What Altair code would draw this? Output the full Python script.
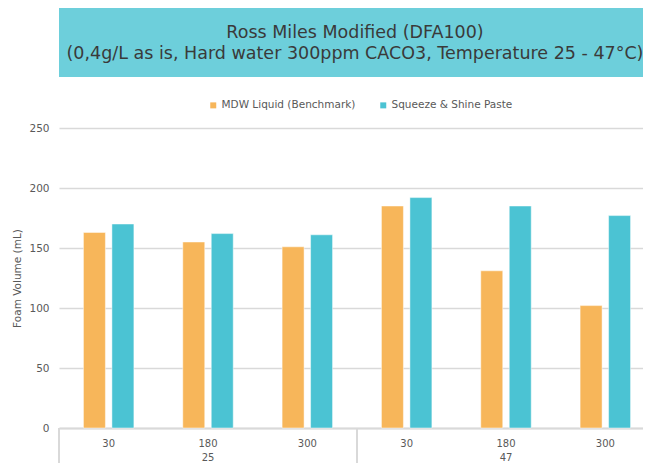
import altair as alt
import pandas as pd

# ---- data ----
temperatures = ["25", "25", "25", "47", "47", "47"]
times = ["30", "180", "300", "30", "180", "300"]
series_names = ["MDW Liquid (Benchmark)", "Squeeze & Shine Paste"]
mdw_values = [163, 155, 151, 185, 131, 102]
squeeze_values = [170, 162, 161, 192, 185, 177]
y_ticks = [0, 50, 100, 150, 200, 250]
title_lines = ["Ross Miles Modified (DFA100)",
               "(0,4g/L as is, Hard water 300ppm CACO3, Temperature 25 - 47°C)"]
y_title = "Foam Volume (mL)"

FONT = "DejaVu Sans"
GREY = "#595959"
GRID = "#D9D9D9"
COLORS = ["#F7B65A", "#4BC3D3"]
BOX = "#6DCFDB"

cats = [f"{t}|{m}" for t, m in zip(temperatures, times)]
rows = []
for c, v1, v2 in zip(cats, mdw_values, squeeze_values):
    rows.append({"cat": c, "series": series_names[0], "value": v1})
    rows.append({"cat": c, "series": series_names[1], "value": v2})
df = pd.DataFrame(rows)

W, H = 584, 300
xscale = alt.Scale(domain=cats, range=[0, 596], paddingInner=0, paddingOuter=0)

bars = alt.Chart(df).mark_bar(stroke="white", strokeOpacity=0.6, strokeWidth=0.8).encode(
    x=alt.X("cat:N", scale=xscale, sort=cats,
            axis=alt.Axis(title=None, labelExpr="split(datum.label, '|')[1]",
                          labelAngle=0, ticks=False, domainColor=GRID, domainWidth=2,
                          labelColor=GREY, labelFont=FONT, labelFontSize=10,
                          labelPadding=10, grid=False)),
    xOffset=alt.XOffset("series:N", sort=series_names,
                        scale=alt.Scale(paddingInner=0.228, paddingOuter=0.858)),
    y=alt.Y("value:Q", scale=alt.Scale(domain=[0, 250], nice=False),
            axis=alt.Axis(values=y_ticks, title=y_title, titleFont=FONT, titleFontSize=10.5,
                          titleFontWeight="normal", titleColor=GREY, titlePadding=6,
                          labelColor=GREY, labelFont=FONT, labelFontSize=10.5,
                          labelPadding=10, ticks=False, domain=False,
                          gridColor=GRID, gridWidth=1.6)),
    color=alt.Color("series:N", sort=series_names,
                    scale=alt.Scale(domain=series_names, range=COLORS),
                    legend=alt.Legend(title=None, orient="none", legendX=149, legendY=-28,
                                      direction="horizontal", symbolType="square",
                                      symbolSize=36, symbolStrokeWidth=0,
                                      labelFont=FONT, labelFontSize=10.5, labelColor=GREY,
                                      labelOffset=3, columnPadding=22)),
)

groups_df = pd.DataFrame({"cat": [cats[1], cats[4]], "label": [temperatures[0], temperatures[3]]})
group_text = alt.Chart(groups_df).mark_text(font=FONT, fontSize=10, color=GREY, baseline="middle").encode(
    x=alt.X("cat:N", scale=xscale, sort=cats),
    y=alt.value(H + 30),
    text="label:N",
)

bounds_df = pd.DataFrame({"cat": [cats[0], cats[3]]})
bounds = alt.Chart(bounds_df).mark_rule(color=GRID, strokeWidth=2).encode(
    x=alt.X("cat:N", scale=xscale, sort=cats, bandPosition=0),
    y=alt.value(H),
    y2=alt.value(H + 40),
)

box = alt.Chart(pd.DataFrame({"a": [0]})).mark_rect(color=BOX).encode(
    x=alt.value(0), x2=alt.value(W + 20), y=alt.value(-125), y2=alt.value(-51),
)
title1 = alt.Chart(pd.DataFrame({"line": [title_lines[0]]})).mark_text(
    font=FONT, fontSize=17.5, color="#3a3a3a", baseline="middle", align="center").encode(
    x=alt.value(296), y=alt.value(-95), text="line:N")
title2 = alt.Chart(pd.DataFrame({"line": [title_lines[1]]})).mark_text(
    font=FONT, fontSize=17.5, color="#3a3a3a", baseline="middle", align="center").encode(
    x=alt.value(296), y=alt.value(-74), text="line:N")

chart = alt.layer(box, title1, title2, bars, group_text, bounds).properties(
    width=W, height=H,
    autosize=alt.AutoSizeParams(type="none"),
    padding={"left": 51, "top": 120, "right": 0, "bottom": 35},
).configure_view(stroke=None)

chart.save("out.html", embed_options={"renderer": "svg", "actions": False})
